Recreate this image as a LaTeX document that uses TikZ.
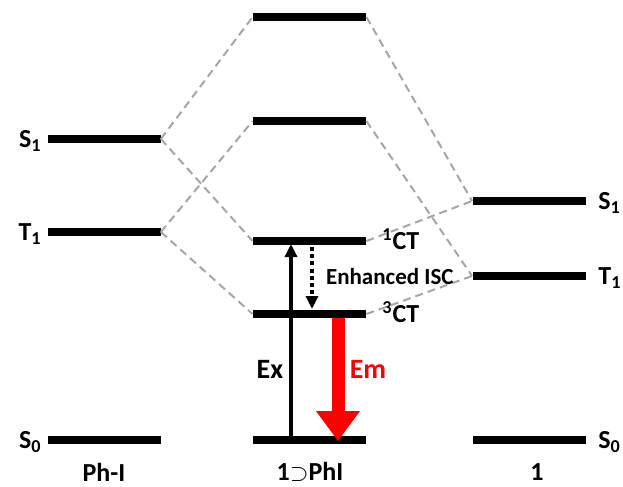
\documentclass[tikz,border=0pt]{standalone}
\usepackage{fontspec}
\setmainfont{Carlito}
\usetikzlibrary{arrows.meta}
\tikzset{
  level/.style={fill=black, inner sep=0pt, minimum width=56.5pt, minimum height=4pt},
  corr/.style={gray!70, dashed, line width=1pt, dash pattern=on 4pt off 2.5pt},
  lab/.style={font=\fontsize{13}{15}\selectfont\bfseries, inner sep=1pt}
}
\begin{document}
\begin{tikzpicture}[x=0.5pt, y=-0.5pt]
        \useasboundingbox (0,0) rectangle (623,487);

        % Ph-I levels
        \node[level] (PS1) at (104,139) {};
        \node[level] (PT1) at (104,232) {};
        \node[level] (PS0) at (104,440) {};
        \node[lab, anchor=east] at (44,141) {S\textsubscript{1}};
        \node[lab, anchor=east] at (44,234) {T\textsubscript{1}};
        \node[lab, anchor=east] at (44,442) {S\textsubscript{0}};

        % complex levels
        \node[level] (C4) at (309.5,17) {};
        \node[level] (C3) at (309.5,121) {};
        \node[level] (C1CT) at (309.5,241) {};
        \node[level] (C3CT) at (309.5,314) {};
        \node[level] (CS0) at (309.5,440) {};
        \node[lab, anchor=west] at (380,239) {\textsuperscript{1}CT};
        \node[lab, anchor=west] at (380,312) {\textsuperscript{3}CT};

        % 1 levels
        \node[level] (RS1) at (529,201) {};
        \node[level] (RT1) at (529,276) {};
        \node[level] (RS0) at (529,440) {};
        \node[lab, anchor=west] at (596,203) {S\textsubscript{1}};
        \node[lab, anchor=west] at (596,278) {T\textsubscript{1}};
        \node[lab, anchor=west] at (596,442) {S\textsubscript{0}};

        % correlation lines
        \draw[corr] (PS1.east) -- (C4.west);
        \draw[corr] (PS1.east) -- (C1CT.west);
        \draw[corr] (PT1.east) -- (C3.west);
        \draw[corr] (PT1.east) -- (C3CT.west);
        \draw[corr] (C4.east) -- (RS1.west);
        \draw[corr] (C1CT.east) -- (RS1.west);
        \draw[corr] (C3.east) -- (RT1.west);
        \draw[corr] (C3CT.east) -- (RT1.west);

        % Ex
        \coordinate (ExA) at (291,438);
        \coordinate (ExB) at (291,244);
        \draw[-{Triangle[width=6pt,length=6.5pt]}, line width=1.7pt] (ExA) -- (ExB);
        \node[lab, font=\fontsize{14}{16}\selectfont\bfseries] at (270,369) {Ex};

        % ISC
        \coordinate (IscA) at (312,247);
        \coordinate (IscB) at (312,309);
        \draw[-{Triangle[width=6pt,length=6.5pt]}, line width=1.6pt, dash pattern=on 2pt off 1.6pt] (IscA) -- (IscB);
        \node[font=\fontsize{11.5}{13}\selectfont\bfseries, anchor=west] at (319,277) {Enhanced ISC};

        % Em
        \coordinate (EmA) at (338,318);
        \coordinate (EmB) at (338,441);
        \draw[red, line width=6.5pt, -{Triangle[width=21pt,length=15pt]}] (EmA) -- (EmB);
        \node[lab, red, font=\fontsize{14}{16}\selectfont\bfseries] at (368,369) {Em};

        % names
        \node[lab] at (104,472) {Ph-I};
        \node[lab] at (310,472) {1$\supset$PhI};
        \node[lab] at (537,472) {1};
\end{tikzpicture}
\end{document}
